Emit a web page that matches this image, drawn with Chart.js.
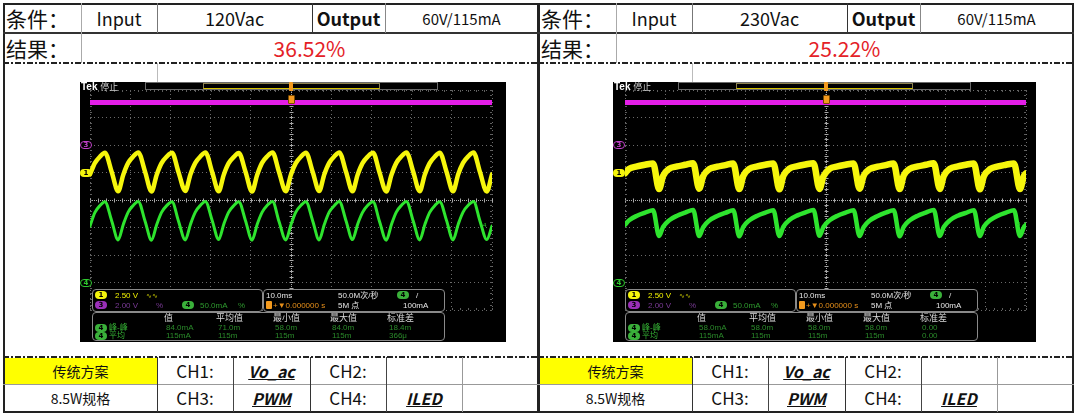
<!DOCTYPE html>
<html>
<head>
<meta charset="utf-8">
<script src="https://cdn.jsdelivr.net/npm/chart.js@4.4.1/dist/chart.umd.min.js"></script>
<style>
  html, body { margin:0; padding:0; background:#fff; }
  #page { position:relative; width:1080px; height:416px; overflow:hidden;
          font-family:"Noto Sans CJK SC","Noto Sans",sans-serif; color:#111; }
  .ln { position:absolute; }
  .dd { position:absolute; height:2px;
        background:repeating-linear-gradient(90deg,#222 0 6px,transparent 6px 8px,#222 8px 10px,transparent 10px 12px); }
  .cell { position:absolute; display:flex; align-items:center; justify-content:center; white-space:nowrap; }
  .scope { position:absolute; top:82px; height:260px; background:#000; overflow:hidden; }
  .scope canvas { position:absolute; left:0; top:0; }
  .ov { position:absolute; white-space:nowrap; line-height:1;
        font-family:"Liberation Sans Narrow","Liberation Sans","Noto Sans CJK SC",sans-serif; font-size:8px; }
  .panel { position:absolute; border:1px solid #8a8a8a; border-radius:4px; box-sizing:border-box; }
  .pill { position:absolute; width:12px; height:8px; border-radius:4px; box-sizing:border-box;
          font:bold 7px/8px "DejaVu Sans",sans-serif; text-align:center; color:#000; }
  .chn { font-weight:bold; font-style:italic; text-decoration:underline; }
</style>
</head>
<body>
<div id="page"></div>
<script>
// ---------- table values ----------
const inputs  = ['120Vac', '230Vac'];
const outputs = ['60V/115mA', '60V/115mA'];
const results = ['36.52%', '25.22%'];
const chNames = ['Vo_ac', '', 'PWM', 'ILED'];

// ---------- scope readouts ----------
const statHeads = ['值', '平均值', '最小值', '最大值', '标准差'];
const pp120  = ['84.0mA', '71.0m', '58.0m', '84.0m', '18.4m'];
const avg120 = ['115mA', '115m', '115m', '115m', '366μ'];
const pp230  = ['58.0mA', '58.0m', '58.0m', '58.0m', '0.00'];
const avg230 = ['115mA', '115m', '115m', '115m', '0.00'];

// ---------- waveforms: time in ms (10 ms/div), level in divisions ----------
const t120 = [0, 1.2, 2.5, 3.7, 5.4, 7.0,
  8.3, 9.5, 10.8, 12.0, 13.7, 15.3,
  16.6, 17.8, 19.1, 20.4, 22.0, 23.7,
  25.0, 26.2, 27.5, 28.7, 30.4, 32.0,
  33.3, 34.5, 35.8, 37.0, 38.7, 40.3,
  41.6, 42.8, 44.1, 45.4, 47.0, 48.7,
  50.0, 51.2, 52.5, 53.7, 55.4, 57.0,
  58.3, 59.5, 60.8, 62.0, 63.7, 65.3,
  66.6, 67.8, 69.1, 70.4, 72.0, 73.7,
  75.0, 76.2, 77.5, 78.7, 80.4, 82.0,
  83.3, 84.5, 85.8, 87.0, 88.7, 90.3,
  91.6, 92.8, 94.1, 95.4, 97.0, 98.7,
  100.0];
const ch1_120 = [0.93, 1.34, 1.58, 1.72, 1.02, 0.32,
  0.93, 1.35, 1.59, 1.73, 1.03, 0.31,
  0.92, 1.34, 1.58, 1.72, 1.02, 0.33,
  0.94, 1.35, 1.59, 1.73, 1.01, 0.32,
  0.93, 1.34, 1.57, 1.71, 1.02, 0.31,
  0.92, 1.35, 1.59, 1.73, 1.03, 0.32,
  0.93, 1.34, 1.58, 1.72, 1.02, 0.33,
  0.94, 1.35, 1.59, 1.73, 1.02, 0.32,
  0.93, 1.34, 1.58, 1.72, 1.01, 0.31,
  0.92, 1.35, 1.59, 1.73, 1.03, 0.32,
  0.93, 1.34, 1.58, 1.72, 1.02, 0.32,
  0.94, 1.35, 1.59, 1.73, 1.02, 0.31,
  0.93];
const ch4_120 = [-0.95, -0.46, -0.20, -0.06, -0.76, -1.45,
  -0.88, -0.44, -0.19, -0.05, -0.77, -1.46,
  -0.89, -0.45, -0.20, -0.06, -0.76, -1.45,
  -0.88, -0.44, -0.19, -0.05, -0.75, -1.44,
  -0.87, -0.44, -0.20, -0.06, -0.76, -1.46,
  -0.88, -0.45, -0.19, -0.05, -0.77, -1.45,
  -0.89, -0.44, -0.19, -0.06, -0.76, -1.45,
  -0.88, -0.44, -0.20, -0.05, -0.76, -1.44,
  -0.87, -0.45, -0.19, -0.06, -0.77, -1.46,
  -0.88, -0.44, -0.19, -0.05, -0.76, -1.45,
  -0.89, -0.45, -0.20, -0.06, -0.75, -1.45,
  -0.88, -0.44, -0.19, -0.05, -0.76, -1.44,
  -0.95];

const t230 = [0, 1.0, 3.0, 5.0, 7.0, 8.5,
  9.5, 11.0, 13.0, 15.0, 17.0, 18.5,
  19.5, 21.0, 23.0, 25.0, 27.0, 28.5,
  29.5, 31.0, 33.0, 35.0, 37.0, 38.5,
  39.5, 41.0, 43.0, 45.0, 47.0, 48.5,
  49.5, 51.0, 53.0, 55.0, 57.0, 58.5,
  59.5, 61.0, 63.0, 65.0, 67.0, 68.5,
  69.5, 71.0, 73.0, 75.0, 77.0, 78.5,
  79.5, 81.0, 83.0, 85.0, 87.0, 88.5,
  89.5, 91.0, 93.0, 95.0, 97.0, 98.5,
  99.5, 100.0];
const ch1_230 = [0.97, 1.13, 1.22, 1.28, 1.33, 0.40,
  0.88, 1.13, 1.22, 1.28, 1.34, 0.41,
  0.87, 1.12, 1.21, 1.27, 1.33, 0.40,
  0.88, 1.13, 1.22, 1.28, 1.33, 0.39,
  0.88, 1.14, 1.23, 1.29, 1.34, 0.40,
  0.87, 1.13, 1.22, 1.28, 1.33, 0.41,
  0.88, 1.12, 1.21, 1.27, 1.33, 0.40,
  0.89, 1.13, 1.22, 1.28, 1.34, 0.40,
  0.88, 1.13, 1.22, 1.28, 1.33, 0.39,
  0.87, 1.12, 1.22, 1.28, 1.33, 0.40,
  0.88, 0.97];
const ch4_230 = [-0.90, -0.74, -0.57, -0.46, -0.37, -1.31,
  -0.98, -0.74, -0.57, -0.46, -0.36, -1.31,
  -0.99, -0.75, -0.58, -0.47, -0.37, -1.32,
  -0.98, -0.74, -0.57, -0.46, -0.37, -1.31,
  -0.97, -0.73, -0.56, -0.45, -0.36, -1.30,
  -0.98, -0.74, -0.57, -0.46, -0.37, -1.31,
  -0.99, -0.75, -0.58, -0.46, -0.37, -1.32,
  -0.98, -0.74, -0.57, -0.46, -0.36, -1.31,
  -0.98, -0.74, -0.57, -0.47, -0.37, -1.31,
  -0.97, -0.74, -0.57, -0.46, -0.37, -1.31,
  -0.98, -0.90];

const ch3T = [0, 100];
const ch3_120 = [3.55, 3.55];
const ch3_230 = [3.55, 3.55];

// channel ground markers (divisions)
const refCh3 = 2, refCh1 = 1, refCh4 = -3;

// ---------------------------------------------------------------------------
const page = document.getElementById('page');

function el(cls, x, y, w, h, style, html){
  const d = document.createElement('div');
  d.className = cls;
  d.style.left = x + 'px'; d.style.top = y + 'px';
  if(w != null) d.style.width = w + 'px';
  if(h != null) d.style.height = h + 'px';
  if(style) d.style.cssText += style;
  if(html != null) d.innerHTML = html;
  return d;
}
function line(x, y, w, h, c){ page.appendChild(el('ln', x, y, w, h, 'background:' + c)); }
function cell(x, y, w, h, html, style){ page.appendChild(el('cell', x, y, w, h, style, html)); }

function buildTable(i){
  const o = i * 535;
  // yellow cell first so the lines sit over it
  page.appendChild(el('ln', o + 4, 358, 153, 26, 'background:#ffff00'));
  line(o + 3, 3, 536, 2, '#222');
  line(o + 3, 411, 536, 2, '#222');
  line(o + 3, 3, 2, 410, '#222');
  line(o + 537, 3, 2, 410, '#222');
  line(o + 3, 32, 536, 2, '#333');
  page.appendChild(el('dd', o + 3, 62, 536, null));
  page.appendChild(el('dd', o + 3, 356, 536, null));
  line(o + 3, 384, 536, 1, '#999');
  line(o + 81, 3, 1, 60, '#aaa');
  line(o + 157, 3, 1, 30, '#777');
  line(o + 312, 3, 1, 30, '#333');
  line(o + 385, 3, 1, 30, '#888');
  line(o + 157, 63, 1, 20, '#bbb');
  line(o + 157, 357, 1, 55, '#333');
  line(o + 233, 357, 1, 55, '#444');
  line(o + 310, 357, 1, 55, '#333');
  line(o + 386, 357, 1, 55, '#444');
  line(o + 462, 357, 1, 55, '#999');

  cell(o + 6, 3, 75, 30, '条件：', 'font-size:21px;justify-content:flex-start');
  cell(o + 81, 3, 76, 30, 'Input', 'font-size:18px');
  cell(o + 157, 3, 155, 30, inputs[i], 'font-size:18px');
  cell(o + 312, 3, 73, 30, 'Output', 'font-size:18px;font-weight:bold');
  cell(o + 385, 3, 153, 30, outputs[i], 'font-size:15px');
  cell(o + 6, 33, 75, 30, '结果：', 'font-size:21px;justify-content:flex-start');
  cell(o + 81, 33, 457, 30, results[i], 'font-size:21px;color:#e42127');

  cell(o + 4, 357, 153, 27, '传统方案', 'font-size:14px');
  cell(o + 157, 357, 76, 27, 'CH1:', 'font-size:17px');
  cell(o + 233, 357, 77, 27, '<span class="chn">' + chNames[0] + '</span>', 'font-size:16px');
  cell(o + 310, 357, 76, 27, 'CH2:', 'font-size:17px');
  cell(o + 386, 357, 76, 27, chNames[1] ? '<span class="chn">' + chNames[1] + '</span>' : '', 'font-size:16px');
  cell(o + 4, 384, 153, 27, '8.5W规格', 'font-size:14px');
  cell(o + 157, 384, 76, 27, 'CH3:', 'font-size:17px');
  cell(o + 233, 384, 77, 27, '<span class="chn">' + chNames[2] + '</span>', 'font-size:16px');
  cell(o + 310, 384, 76, 27, 'CH4:', 'font-size:17px');
  cell(o + 386, 384, 76, 27, '<span class="chn">' + chNames[3] + '</span>', 'font-size:16px');
}

// graticule centre lines with minor ticks, like the Tek display
const centreAxes = {
  id: 'centreAxes',
  beforeDatasetsDraw(chart){
    const {ctx, chartArea:a, scales:{x, y}} = chart;
    const cx = Math.round(x.getPixelForValue(50)) + 0.5;
    const cy = Math.round(y.getPixelForValue(0)) + 0.5;
    ctx.save();
    ctx.lineWidth = 1;
    ctx.strokeStyle = '#a8a8a8';
    ctx.setLineDash([1, 1]);
    ctx.beginPath();
    ctx.moveTo(a.left, cy); ctx.lineTo(a.right, cy);
    ctx.moveTo(cx, a.top); ctx.lineTo(cx, a.bottom);
    ctx.stroke();
    ctx.setLineDash([]);
    ctx.beginPath();
    for(let v = 0; v <= 100; v += 2){
      const px = Math.round(x.getPixelForValue(v)) + 0.5;
      ctx.moveTo(px, cy - 2); ctx.lineTo(px, cy + 2);
    }
    for(let v = -4; v <= 4.001; v += 0.2){
      const py = Math.round(y.getPixelForValue(v)) + 0.5;
      ctx.moveTo(cx - 2, py); ctx.lineTo(cx + 2, py);
    }
    ctx.stroke();
    ctx.strokeStyle = '#5e5e5e';
    ctx.beginPath();
    for(let v = 0; v <= 100; v += 2){
      const px = Math.round(x.getPixelForValue(v)) + 0.5;
      ctx.moveTo(px, a.top); ctx.lineTo(px, a.top + 2);
      ctx.moveTo(px, a.bottom); ctx.lineTo(px, a.bottom - 2);
    }
    for(let v = -4; v <= 4.001; v += 0.2){
      const py = Math.round(y.getPixelForValue(v)) + 0.5;
      ctx.moveTo(a.left, py); ctx.lineTo(a.left + 2, py);
      ctx.moveTo(a.right, py); ctx.lineTo(a.right - 2, py);
    }
    ctx.stroke();
    ctx.restore();
  }
};

function pts(t, v){ return t.map((x, k) => ({x, y: v[k]})); }

function pill(host, x, y, txt, col, outline){
  const st = outline
    ? 'border:1px solid ' + col + ';background:#000;color:' + col + ';line-height:6px'
    : 'background:' + col;
  host.appendChild(el('pill', x, y, null, null, st, txt));
}
function txt(host, x, y, html, style){ host.appendChild(el('ov', x, y, null, null, style, html)); }

function buildScope(left, w, padL, padR, t, ch1, ch4, ch3, w1, w4, pp, avg){
  const host = el('scope', left, 82, w, null);
  page.appendChild(host);
  const cv = document.createElement('canvas');
  cv.width = w; cv.height = 260;
  host.appendChild(cv);

  const chart = new Chart(cv, {
    type: 'line',
    data: { datasets: [
      { data: pts(ch3T, ch3), borderColor: '#e41ee8', borderWidth: 5 },
      { data: pts(t, ch1), borderColor: '#f6f60c', borderWidth: w1 },
      { data: pts(t, ch4), borderColor: '#2ee42e', borderWidth: w4 }
    ]},
    options: {
      responsive: false, animation: false, events: [],
      layout: { padding: { left: padL, right: padR, top: 8, bottom: 32 } },
      plugins: { legend: { display: false }, tooltip: { enabled: false } },
      elements: {
        point: { radius: 0 },
        line: { cubicInterpolationMode: 'monotone', borderJoinStyle: 'round', borderCapStyle: 'round' }
      },
      scales: {
        x: { type: 'linear', min: 0, max: 100,
             ticks: { stepSize: 10, display: false },
             grid: { color: '#6a6a6a', drawTicks: false },
             border: { display: false, dash: [1, 3] } },
        y: { type: 'linear', min: -4, max: 4,
             ticks: { stepSize: 1, display: false },
             grid: { color: '#6a6a6a', drawTicks: false },
             border: { display: false, dash: [1, 3] } }
      }
    },
    plugins: [centreAxes]
  });

  const xs = chart.scales.x, ys = chart.scales.y;
  const cx = xs.getPixelForValue(50);

  // header strip
  txt(host, 1, 0, '<b>Tek</b> <span style="color:#cfcfcf;font-size:9px">停止</span>', 'color:#fff;font-size:10px');
  host.appendChild(el('ln', 65, 0, 293, 8, 'border:1px solid #6a6a6a;box-sizing:border-box'));
  host.appendChild(el('ln', 123, 1, 177, 6, 'border:1px solid #8c8250;border-bottom-color:#d8c400;box-sizing:border-box'));
  host.appendChild(el('ln', cx - 2, 0, 4, 9, 'background:#f39a1e;border-radius:1px'));
  host.appendChild(el('ln', cx - 3, 13, 7, 9, 'background:#f39a1e;border-radius:1px;border:1px solid #7a4a00;box-sizing:border-box'));

  // channel ground markers
  pill(host, 0, ys.getPixelForValue(refCh3) - 4, '3', '#c040c8', true);
  pill(host, 0, ys.getPixelForValue(refCh1) - 4, '1', '#f4f40c', false);
  pill(host, 0, ys.getPixelForValue(refCh4) - 4, '4', '#2ec82e', true);
  txt(host, xs.getPixelForValue(99) - 5, ys.getPixelForValue(ch4[ch4.length - 1]) - 4, '4', 'color:#2ec82e;font-size:6px');

  // readout panels
  host.appendChild(el('panel', 12, 207, 171, 23, 'background:#000'));
  host.appendChild(el('panel', 183, 207, 182, 23, 'background:#000'));
  host.appendChild(el('panel', 12, 230, 353, 29, 'background:#000'));

  pill(host, 15, 209, '1', '#f4f40c', false);
  txt(host, 35, 210, '2.50 V', 'color:#f0f000');
  txt(host, 66, 210, '∿∿', 'color:#c8c800;font-size:7px');
  pill(host, 15, 219, '3', '#9a2fb8', false);
  txt(host, 35, 220, '2.00 V', 'color:#7a3a96');
  txt(host, 76, 220, '%', 'color:#7a3a96');
  pill(host, 102, 219, '4', '#3ab03a', false);
  txt(host, 120, 220, '50.0mA', 'color:#2e9a2e');
  txt(host, 158, 220, '%', 'color:#2e9a2e');

  txt(host, 186, 210, '10.0ms', 'color:#e6e6e6');
  txt(host, 258, 210, '50.0M次/秒', 'color:#e6e6e6');
  pill(host, 317, 209, '4', '#3ab03a', false);
  txt(host, 336, 210, '/', 'color:#e6e6e6');
  host.appendChild(el('ln', 186, 219, 6, 8, 'background:#f39a1e;border-radius:1px'));
  txt(host, 193, 220, '+▼0.000000 s', 'color:#e8901a');
  txt(host, 258, 220, '5M 点', 'color:#e6e6e6');
  txt(host, 323, 220, '100mA', 'color:#e6e6e6');

  const colX = [84, 136, 193, 250, 307];
  statHeads.forEach((h, k) => txt(host, colX[k], 232, h, 'color:#d8d8d8;font-size:9px'));
  pill(host, 15, 242, '4', '#3ab03a', false);
  txt(host, 29, 242, '峰-峰', 'color:#34b034');
  pp.forEach((v, k) => txt(host, colX[k] + 2, 242, v, 'color:#2a8a2a'));
  pill(host, 15, 250, '4', '#3ab03a', false);
  txt(host, 29, 250, '平均', 'color:#34b034');
  avg.forEach((v, k) => txt(host, colX[k] + 2, 250, v, 'color:#2a8a2a'));
}

buildTable(0);
buildTable(1);
buildScope(80, 426, 10, 14, t120, ch1_120, ch4_120, ch3_120, 4.5, 3, pp120, avg120);
buildScope(613, 423, 12, 10, t230, ch1_230, ch4_230, ch3_230, 6.5, 4.5, pp230, avg230);
</script>
</body>
</html>
